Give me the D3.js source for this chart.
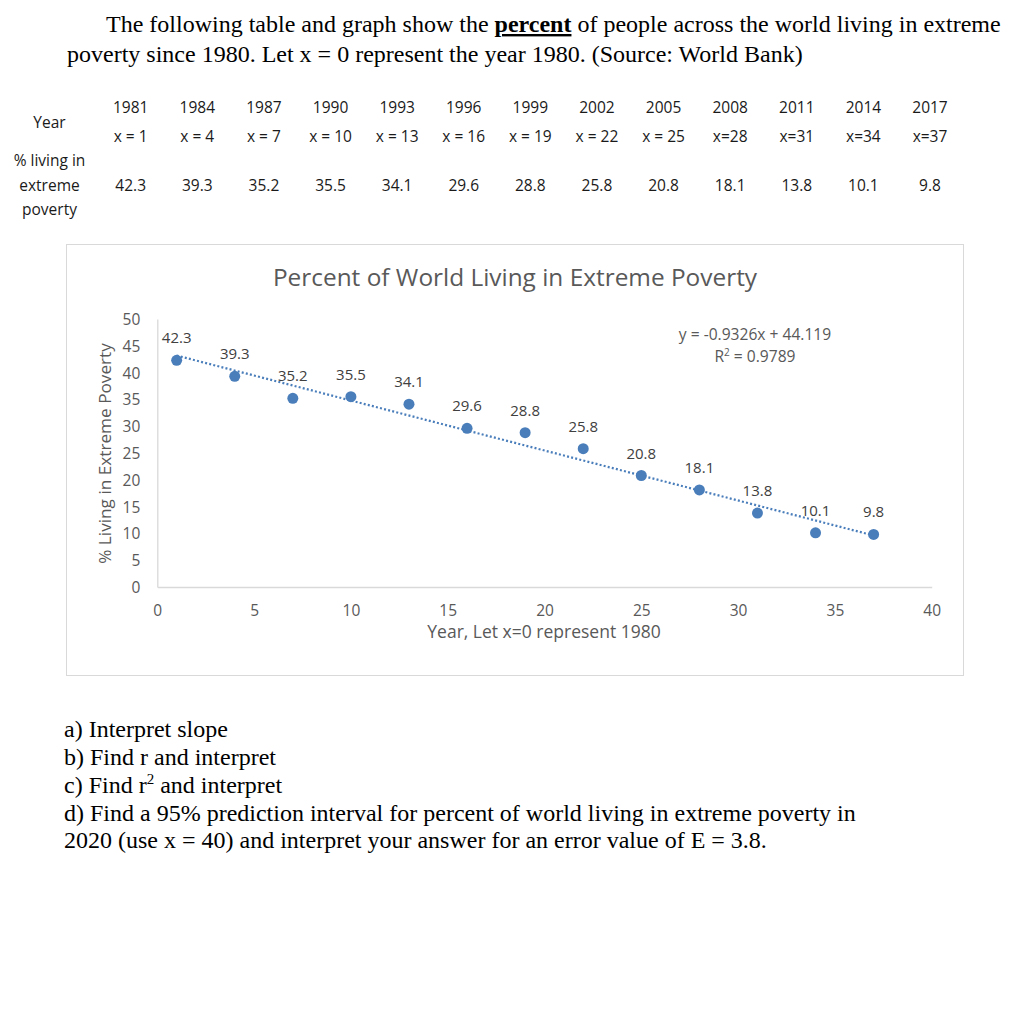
<!DOCTYPE html>
<html>
<head>
<meta charset="utf-8">
<script src="https://cdn.jsdelivr.net/npm/d3@7"></script>
<style>
  html, body { margin: 0; padding: 0; background: #fff; }
  svg { display: block; }
</style>
</head>
<body>
<svg id="page" width="1036" height="1018"></svg>
<script>
// ---------------- data ----------------
const years = [1981, 1984, 1987, 1990, 1993, 1996, 1999, 2002, 2005, 2008, 2011, 2014, 2017];
const xValues = [1, 4, 7, 10, 13, 16, 19, 22, 25, 28, 31, 34, 37];
const xLabels = ["x = 1", "x = 4", "x = 7", "x = 10", "x = 13", "x = 16", "x = 19", "x = 22", "x = 25", "x=28", "x=31", "x=34", "x=37"];
const percents = [42.3, 39.3, 35.2, 35.5, 34.1, 29.6, 28.8, 25.8, 20.8, 18.1, 13.8, 10.1, 9.8];
const trendSlope = -0.9326;
const trendIntercept = 44.119;
const rSquared = 0.9789;
const xTicks = [0, 5, 10, 15, 20, 25, 30, 35, 40];
const yTicks = [0, 5, 10, 15, 20, 25, 30, 35, 40, 45, 50];
const rowLabels = ["Year", "% living in", "extreme", "poverty"];
const chartTitle = "Percent of World Living in Extreme Poverty";
const xAxisTitle = "Year, Let x=0 represent 1980";
const yAxisTitle = "% Living in Extreme Poverty";
const questions = [
  "a) Interpret slope",
  "b) Find r and interpret",
  "c) Find r2 and interpret",
  "d) Find a 95% prediction interval for percent of world living in extreme poverty in",
  "2020 (use x = 40) and interpret your answer for an error value of E = 3.8."
];

// ---------------- drawing ----------------
const svg = d3.select("#page");
const serif = "'Liberation Serif', 'Times New Roman', serif";
const sans = "'Open Sans', 'Noto Sans', sans-serif";

// Header paragraph
const h1 = svg.append("text").attr("x", 106).attr("y", 32)
  .attr("font-family", serif).attr("font-size", 24).attr("fill", "#000");
h1.append("tspan").text("The following table and graph show the ");
h1.append("tspan").attr("font-weight", "bold").attr("text-decoration", "underline").text("percent");
h1.append("tspan").text(" of people across the world living in extreme");
svg.append("text").attr("x", 67).attr("y", 62)
  .attr("font-family", serif).attr("font-size", 24).attr("fill", "#000")
  .text("poverty since 1980. Let x = 0 represent the year 1980. (Source: World Bank)");

// Table
const colX = d3.scalePoint().domain(years).range([130.7, 930]);
const tbl = svg.append("g").attr("font-family", sans).attr("font-size", 15.5).attr("fill", "#1a1a1a")
  .attr("text-anchor", "middle");
tbl.selectAll("text.yr").data(years).join("text").attr("class", "yr")
  .attr("x", d => colX(d)).attr("y", 113).text(d => d);
tbl.selectAll("text.xl").data(years).join("text").attr("class", "xl")
  .attr("x", d => colX(d)).attr("y", 142).text((d, i) => xLabels[i]);
tbl.selectAll("text.pv").data(years).join("text").attr("class", "pv")
  .attr("x", d => colX(d)).attr("y", 190.5).text((d, i) => percents[i]);
const rowY = [127.5, 166, 190.5, 215];
tbl.selectAll("text.rl").data(rowLabels).join("text").attr("class", "rl")
  .attr("x", 49.5).attr("y", (d, i) => rowY[i]).text(d => d);

// Chart frame
svg.append("rect").attr("x", 66.5).attr("y", 244.5).attr("width", 897).attr("height", 431)
  .attr("fill", "#fff").attr("stroke", "#d9d9d9").attr("stroke-width", 1);

const x = d3.scaleLinear().domain([0, 40]).range([157.3, 931.7]);
const y = d3.scaleLinear().domain([0, 50]).range([587, 319]);
const gray = "#595959";
const blue = "#4a7ebb";

svg.append("text").attr("x", 515).attr("y", 286).attr("text-anchor", "middle")
  .attr("font-family", sans).attr("font-size", 24.4).attr("fill", gray).text(chartTitle);

// axes
const xAxis = svg.append("g").attr("transform", `translate(0,${y(0)})`)
  .call(d3.axisBottom(x).tickValues(xTicks).tickSize(0).tickPadding(18));
const yAxis = svg.append("g").attr("transform", `translate(${x(0)},0)`)
  .call(d3.axisLeft(y).tickValues(yTicks).tickSize(0).tickPadding(17));
[xAxis, yAxis].forEach(g => {
  g.select(".domain").attr("stroke", "#d9d9d9").attr("stroke-width", 1.3);
  g.selectAll("text").attr("font-family", sans).attr("font-size", 15.5).attr("fill", gray);
});
xAxis.selectAll("text").attr("dy", "0.71em");
yAxis.selectAll("text").attr("dy", "0.36em");

svg.append("text").attr("x", 544).attr("y", 638).attr("text-anchor", "middle")
  .attr("font-family", sans).attr("font-size", 17.5).attr("fill", gray).text(xAxisTitle);
svg.append("text").attr("transform", `translate(111,453.5) rotate(-90)`).attr("text-anchor", "middle")
  .attr("font-family", sans).attr("font-size", 17.2).attr("fill", gray).text(yAxisTitle);

// trendline
const xMin = d3.min(xValues), xMax = d3.max(xValues);
svg.append("line")
  .attr("x1", x(xMin)).attr("y1", y(trendSlope * xMin + trendIntercept))
  .attr("x2", x(xMax)).attr("y2", y(trendSlope * xMax + trendIntercept))
  .attr("stroke", blue).attr("stroke-width", 2.2).attr("stroke-dasharray", "2,2.2");

// points
svg.selectAll("circle.pt").data(xValues).join("circle").attr("class", "pt")
  .attr("cx", d => x(d)).attr("cy", (d, i) => y(percents[i])).attr("r", 5.5)
  .attr("fill", blue);

// data labels
svg.selectAll("text.dl").data(xValues).join("text").attr("class", "dl")
  .attr("x", d => x(d)).attr("y", (d, i) => y(percents[i]) - 17)
  .attr("text-anchor", "middle").attr("font-family", sans).attr("font-size", 15)
  .attr("fill", "#404040").text((d, i) => percents[i]);

// equation
const eq = svg.append("g").attr("font-family", sans).attr("font-size", 15.6).attr("fill", gray)
  .attr("text-anchor", "middle");
eq.append("text").attr("x", 755).attr("y", 340)
  .text(`y = ${trendSlope}x + ${trendIntercept}`);
const r2t = eq.append("text").attr("x", 755).attr("y", 362);
r2t.append("tspan").text("R");
r2t.append("tspan").attr("font-size", 10).attr("dy", -6).text("2");
r2t.append("tspan").attr("dy", 6).text(` = ${rSquared}`);

// questions
const qY = [737, 765, 792.8, 820.5, 848.3];
const qg = svg.append("g").attr("font-family", serif).attr("font-size", 24).attr("fill", "#000");
questions.forEach((q, i) => {
  const t = qg.append("text").attr("x", 64).attr("y", qY[i]);
  if (q.indexOf("r2") >= 0) {
    const parts = q.split("r2");
    t.append("tspan").text(parts[0] + "r");
    t.append("tspan").attr("font-size", 15).attr("dy", -9).text("2");
    t.append("tspan").attr("dy", 9).text(parts[1]);
  } else {
    t.text(q);
  }
});
</script>
</body>
</html>
